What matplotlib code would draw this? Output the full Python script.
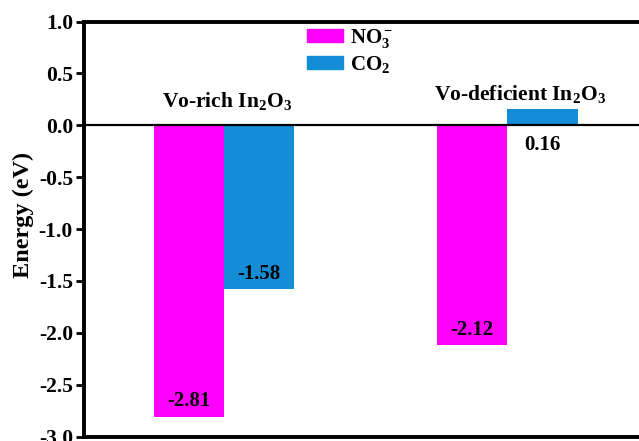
import matplotlib
matplotlib.use("Agg")
import matplotlib.pyplot as plt
import numpy as np
from matplotlib.patches import Patch

plt.rcParams["font.family"] = ["Liberation Serif", "DejaVu Serif"]
plt.rcParams["font.weight"] = "bold"
plt.rcParams["mathtext.fontset"] = "custom"
plt.rcParams["mathtext.rm"] = "Liberation Serif:bold"
plt.rcParams["mathtext.bf"] = "Liberation Serif:bold"
plt.rcParams["mathtext.it"] = "Liberation Serif:bold:italic"

# Adsorption energies (eV)
groups = ["Vo-rich In$_2$O$_3$", "Vo-deficient In$_2$O$_3$"]
series_names = ["NO$_3^-$", "CO$_2$"]
no3_values = [-2.81, -2.12]
co2_values = [-1.58, 0.16]
y_ticks = [1.0, 0.5, 0.0, -0.5, -1.0, -1.5, -2.0, -2.5, -3.0]

magenta = "#FF00FF"
blue = "#138DD6"

fig = plt.figure(figsize=(6.39, 4.41), dpi=100)
ax = fig.add_axes([0.1315, 0.0102, 0.905, 0.9410])

x = np.arange(len(groups))
width = 0.248
ax.bar(x - width / 2, no3_values, width, color=magenta, edgecolor="none")
ax.bar(x + width / 2, co2_values, width, color=blue, edgecolor="none")

ax.axhline(0, color="black", lw=1.6, zorder=3)

# value labels
for xi, v in zip(x - width / 2, no3_values):
    ax.annotate(f"{v:.2f}", xy=(xi, v), xytext=(0, 4), textcoords="offset points",
                ha="center", va="bottom", fontsize=15, fontweight="bold")
for xi, v in zip(x + width / 2, co2_values):
    if v < 0:
        ax.annotate(f"{v:.2f}", xy=(xi, v), xytext=(0, 4), textcoords="offset points",
                    ha="center", va="bottom", fontsize=15, fontweight="bold")
    else:
        ax.annotate(f"{v:.2f}", xy=(xi, 0), xytext=(0, -7), textcoords="offset points",
                    ha="center", va="top", fontsize=15, fontweight="bold")

# group labels
ax.text(x[0] + 0.012, 0.18, groups[0], ha="center", va="baseline", fontsize=15.5, fontweight="bold")
ax.text(x[1] + 0.045, 0.24, groups[1], ha="center", va="baseline", fontsize=15.5, fontweight="bold")

ax.set_xlim(-0.495, 1.547)
ax.set_ylim(-3.0, 1.0)
ax.set_yticks(y_ticks)
ax.set_yticklabels([f"{t:.1f}" for t in y_ticks])
ax.set_xticks([])
ax.tick_params(axis="y", direction="out", length=6, width=2, labelsize=15.5, pad=2)
ax.set_ylabel("Energy (eV)", fontsize=17.5, fontweight="bold")
ax.yaxis.set_label_coords(-0.087, 0.535)

for side in ["left", "top", "bottom"]:
    ax.spines[side].set_linewidth(2.8)
ax.spines["right"].set_visible(False)

handles = [Patch(color=magenta), Patch(color=blue)]
leg = ax.legend(handles, series_names, loc="upper left", bbox_to_anchor=(0.36, 1.022),
                frameon=False, fontsize=15, handlelength=1.75, handleheight=0.6,
                handletextpad=0.3, labelspacing=0.2, borderpad=0.2)

fig.savefig("out.png", dpi=100)
